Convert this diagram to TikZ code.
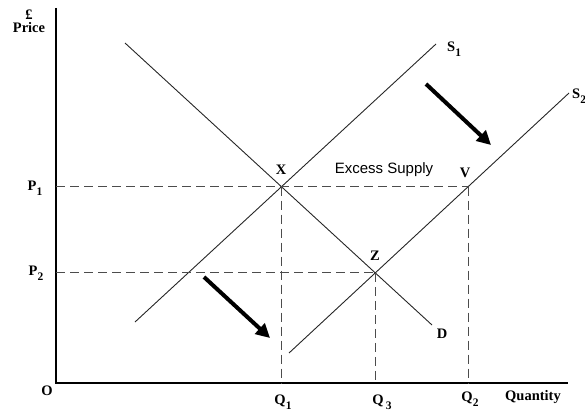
\documentclass[tikz,border=0pt]{standalone}
\usepackage{fontspec}
\setmainfont{Liberation Serif}
\setsansfont{Liberation Sans}
\usetikzlibrary{arrows.meta,intersections,calc}
\newcommand{\lowsub}[1]{\raisebox{-4.5pt}{\fontsize{11.5}{11.5}\selectfont #1}}
\tikzset{
  curve/.style={line width=0.9pt, black!85},
  guide/.style={line width=1.1pt, black!70, dash pattern=on 9pt off 5pt},
  shiftarrow/.style={line width=4pt, -{Triangle[length=14pt,width=14pt]}},
  lbl/.style={font=\fontsize{14.5}{16}\selectfont\bfseries, inner sep=0pt}
}

\begin{document}
\begin{tikzpicture}[x=1pt, y=-1pt]
  \useasboundingbox (0,0) rectangle (585,412);

  % Axes
  \coordinate (O) at (56,383);
  \coordinate (ytop) at (56,8);
  \coordinate (xend) at (568,383);
  \draw[line width=1.4pt] (ytop) -- (O) -- (xend);

  % Demand and supply curves
  \coordinate (d1) at (125,43);   \coordinate (d2) at (432,325);
  \coordinate (s1a) at (135,322); \coordinate (s1b) at (436,44);
  \coordinate (s2a) at (289,353); \coordinate (s2b) at (569,93);
  \draw[curve, name path=D] (d1) -- (d2);
  \draw[curve, name path=S1] (s1a) -- (s1b);
  \draw[curve, name path=S2] (s2a) -- (s2b);

  % Equilibrium points
  \path[name intersections={of=D and S1, by=X}];
  \path[name intersections={of=D and S2, by=Z}];
  \path[name path=pone] (X) -- ++(250,0);
  \path[name intersections={of=pone and S2, by=V}];

  % Dashed guides
  \draw[guide] (O |- X) -- (V);
  \draw[guide] (O |- Z) -- (Z);
  \draw[guide] (X) -- (X |- O);
  \draw[guide] (Z) -- (Z |- O);
  \draw[guide] (V) -- (V |- O);

  % Shift arrows
  \coordinate (a1) at (426,84);  \coordinate (b1) at (491,145);
  \coordinate (a2) at (204,277); \coordinate (b2) at (270,338);
  \draw[shiftarrow] (a1) -- (b1);
  \draw[shiftarrow] (a2) -- (b2);

  % Labels
  \node[lbl, align=center] (price) at (29,21) {£\\[-3pt]Price};
  \node[lbl] (p1) at (35,188) {P\lowsub{1}};
  \node[lbl] (p2) at (36,273) {P\lowsub{2}};
  \node[lbl] (orig) at (47,391) {O};
  \node[lbl] (q1) at (283,402) {Q\lowsub{1}};
  \node[lbl] (q3) at (382,402) {Q\,\lowsub{3}};
  \node[lbl] (q2) at (470,399) {Q\lowsub{2}};
  \node[lbl] (qty) at (533,397) {Quantity};
  \node[lbl] (xl) at (281,170) {X};
  \node[lbl] (zl) at (375,256) {Z};
  \node[lbl] (vl) at (465,173) {V};
  \node[lbl] (dl) at (442,334) {D};
  \node[lbl, anchor=west] (s1l) at (447,49) {S\lowsub{1}};
  \node[lbl, anchor=west] (s2l) at (572,96) {S\lowsub{2}};
  \node[font=\sffamily\fontsize{15}{17}\selectfont, inner sep=0pt] (excess) at (384,170) {Excess Supply};
\end{tikzpicture}
\end{document}
